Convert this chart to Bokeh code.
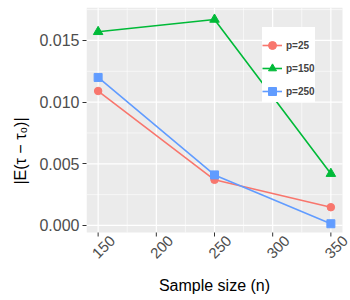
import math
from bokeh.plotting import figure
from bokeh.models import FixedTicker, NumeralTickFormatter, Range1d, Legend, BoxAnnotation
from bokeh.core.properties import value
from bokeh.embed import file_html
from bokeh.resources import INLINE

sample_size = [150, 250, 350]
p25 = [0.0109, 0.0037, 0.00148]
p150 = [0.0157, 0.0167, 0.0042]
p250 = [0.0120, 0.0041, 0.00014]
series_labels = ["p=25", "p=150", "p=250"]
x_ticks = [150, 200, 250, 300, 350]
x_minor = [175, 225, 275, 325]
y_ticks = [0.0, 0.005, 0.010, 0.015]
y_minor = [0.0025, 0.0075, 0.0125, 0.0175]

FONT = "Liberation Sans"
X0, X1 = 140, 360            # panel x extent (data)
Y0, Y1 = -0.00057, 0.01767   # panel y extent (data)
PW, PH = 256, 225            # panel size in px
EXTRA_R, EXTRA_B = 8, 62     # room for tick labels / axis title under the panel
ppx = PW / (X1 - X0)
ppy = PH / (Y1 - Y0)

p = figure(frame_width=PW + EXTRA_R, frame_height=PH + EXTRA_B,
           output_backend="svg", toolbar_location=None,
           x_range=Range1d(X0, X1 + EXTRA_R / ppx),
           y_range=Range1d(Y0 - EXTRA_B / ppy, Y1),
           x_axis_location=None,
           min_border_left=86, min_border_right=0, min_border_top=7, min_border_bottom=0)
p.background_fill_color = "white"
p.border_fill_color = "white"
p.outline_line_color = None
p.grid.visible = False

# grey panel
p.add_layout(BoxAnnotation(left=X0, right=X1, bottom=Y0, top=Y1, fill_color="#EBEBEB",
                           fill_alpha=1, line_color=None, level="underlay"))

# grid lines
p.segment(x0=x_minor, x1=x_minor, y0=Y0, y1=Y1, line_color="white", line_width=0.6)
p.segment(x0=X0, x1=X1, y0=y_minor, y1=y_minor, line_color="white", line_width=0.6)
p.segment(x0=x_ticks, x1=x_ticks, y0=Y0, y1=Y1, line_color="white", line_width=1.2)
p.segment(x0=X0, x1=X1, y0=y_ticks, y1=y_ticks, line_color="white", line_width=1.2)

# x ticks
p.segment(x0=x_ticks, x1=x_ticks, y0=Y0, y1=Y0 - 4 / ppy, line_color="#333333", line_width=1)

# y axis
ya = p.yaxis[0]
ya.ticker = FixedTicker(ticks=y_ticks, minor_ticks=[])
ya.formatter = NumeralTickFormatter(format="0.000")
ya.bounds = (Y0, Y1)
ya.axis_line_color = None
ya.major_tick_line_color = "#333333"
ya.major_tick_in = 0
ya.major_tick_out = 4
ya.minor_tick_line_color = None
ya.major_label_text_font = FONT
ya.major_label_text_font_size = "16px"
ya.major_label_text_color = "#4D4D4D"
ya.major_label_standoff = 3
ya.axis_label = "|E(τ − τ₀)|"
ya.axis_label_standoff = 7
ya.axis_label_text_font = FONT
ya.axis_label_text_font_size = "16px"
ya.axis_label_text_font_style = "normal"
ya.axis_label_text_color = "black"

# x tick labels and title
p.text(x=x_ticks, y=Y0, text=[str(t) for t in x_ticks], x_offset=2, y_offset=11,
       angle=math.pi / 4, text_align="center", text_baseline="top",
       text_font=value(FONT), text_font_size="15px", text_color="#4D4D4D")
p.text(x=[(X0 + X1) / 2], y=Y0, text=["Sample size (n)"], y_offset=53,
       text_align="center", text_baseline="middle", text_font=value(FONT),
       text_font_size="16px", text_color="black")

colors = ["#F8766D", "#00BA38", "#619CFF"]
markers = ["circle", "triangle", "square"]
sizes = [7.5, 9.5, 8]
data = [p25, p150, p250]

items = []
for lab, ys, c, m, s in zip(series_labels, data, colors, markers, sizes):
    r1 = p.line(sample_size, ys, line_color=c, line_width=1.6)
    r2 = p.scatter(sample_size, ys, marker=m, size=s, fill_color=c, line_color=c)
    items.append((lab, [r1, r2]))

legend = Legend(items=items, location=(176, 192))
legend.title = " "
legend.title_text_font_size = "4px"
legend.title_standoff = 2
legend.label_text_font = FONT
legend.label_text_font_size = "10px"
legend.label_text_font_style = "bold"
legend.glyph_width = 20
legend.glyph_height = 22
legend.label_height = 22
legend.label_standoff = 4
legend.spacing = 1
legend.padding = 7
legend.margin = 0
legend.border_line_color = None
legend.background_fill_color = "white"
legend.background_fill_alpha = 1
p.add_layout(legend, "center")

open("out.html", "w").write(file_html(p, INLINE))
